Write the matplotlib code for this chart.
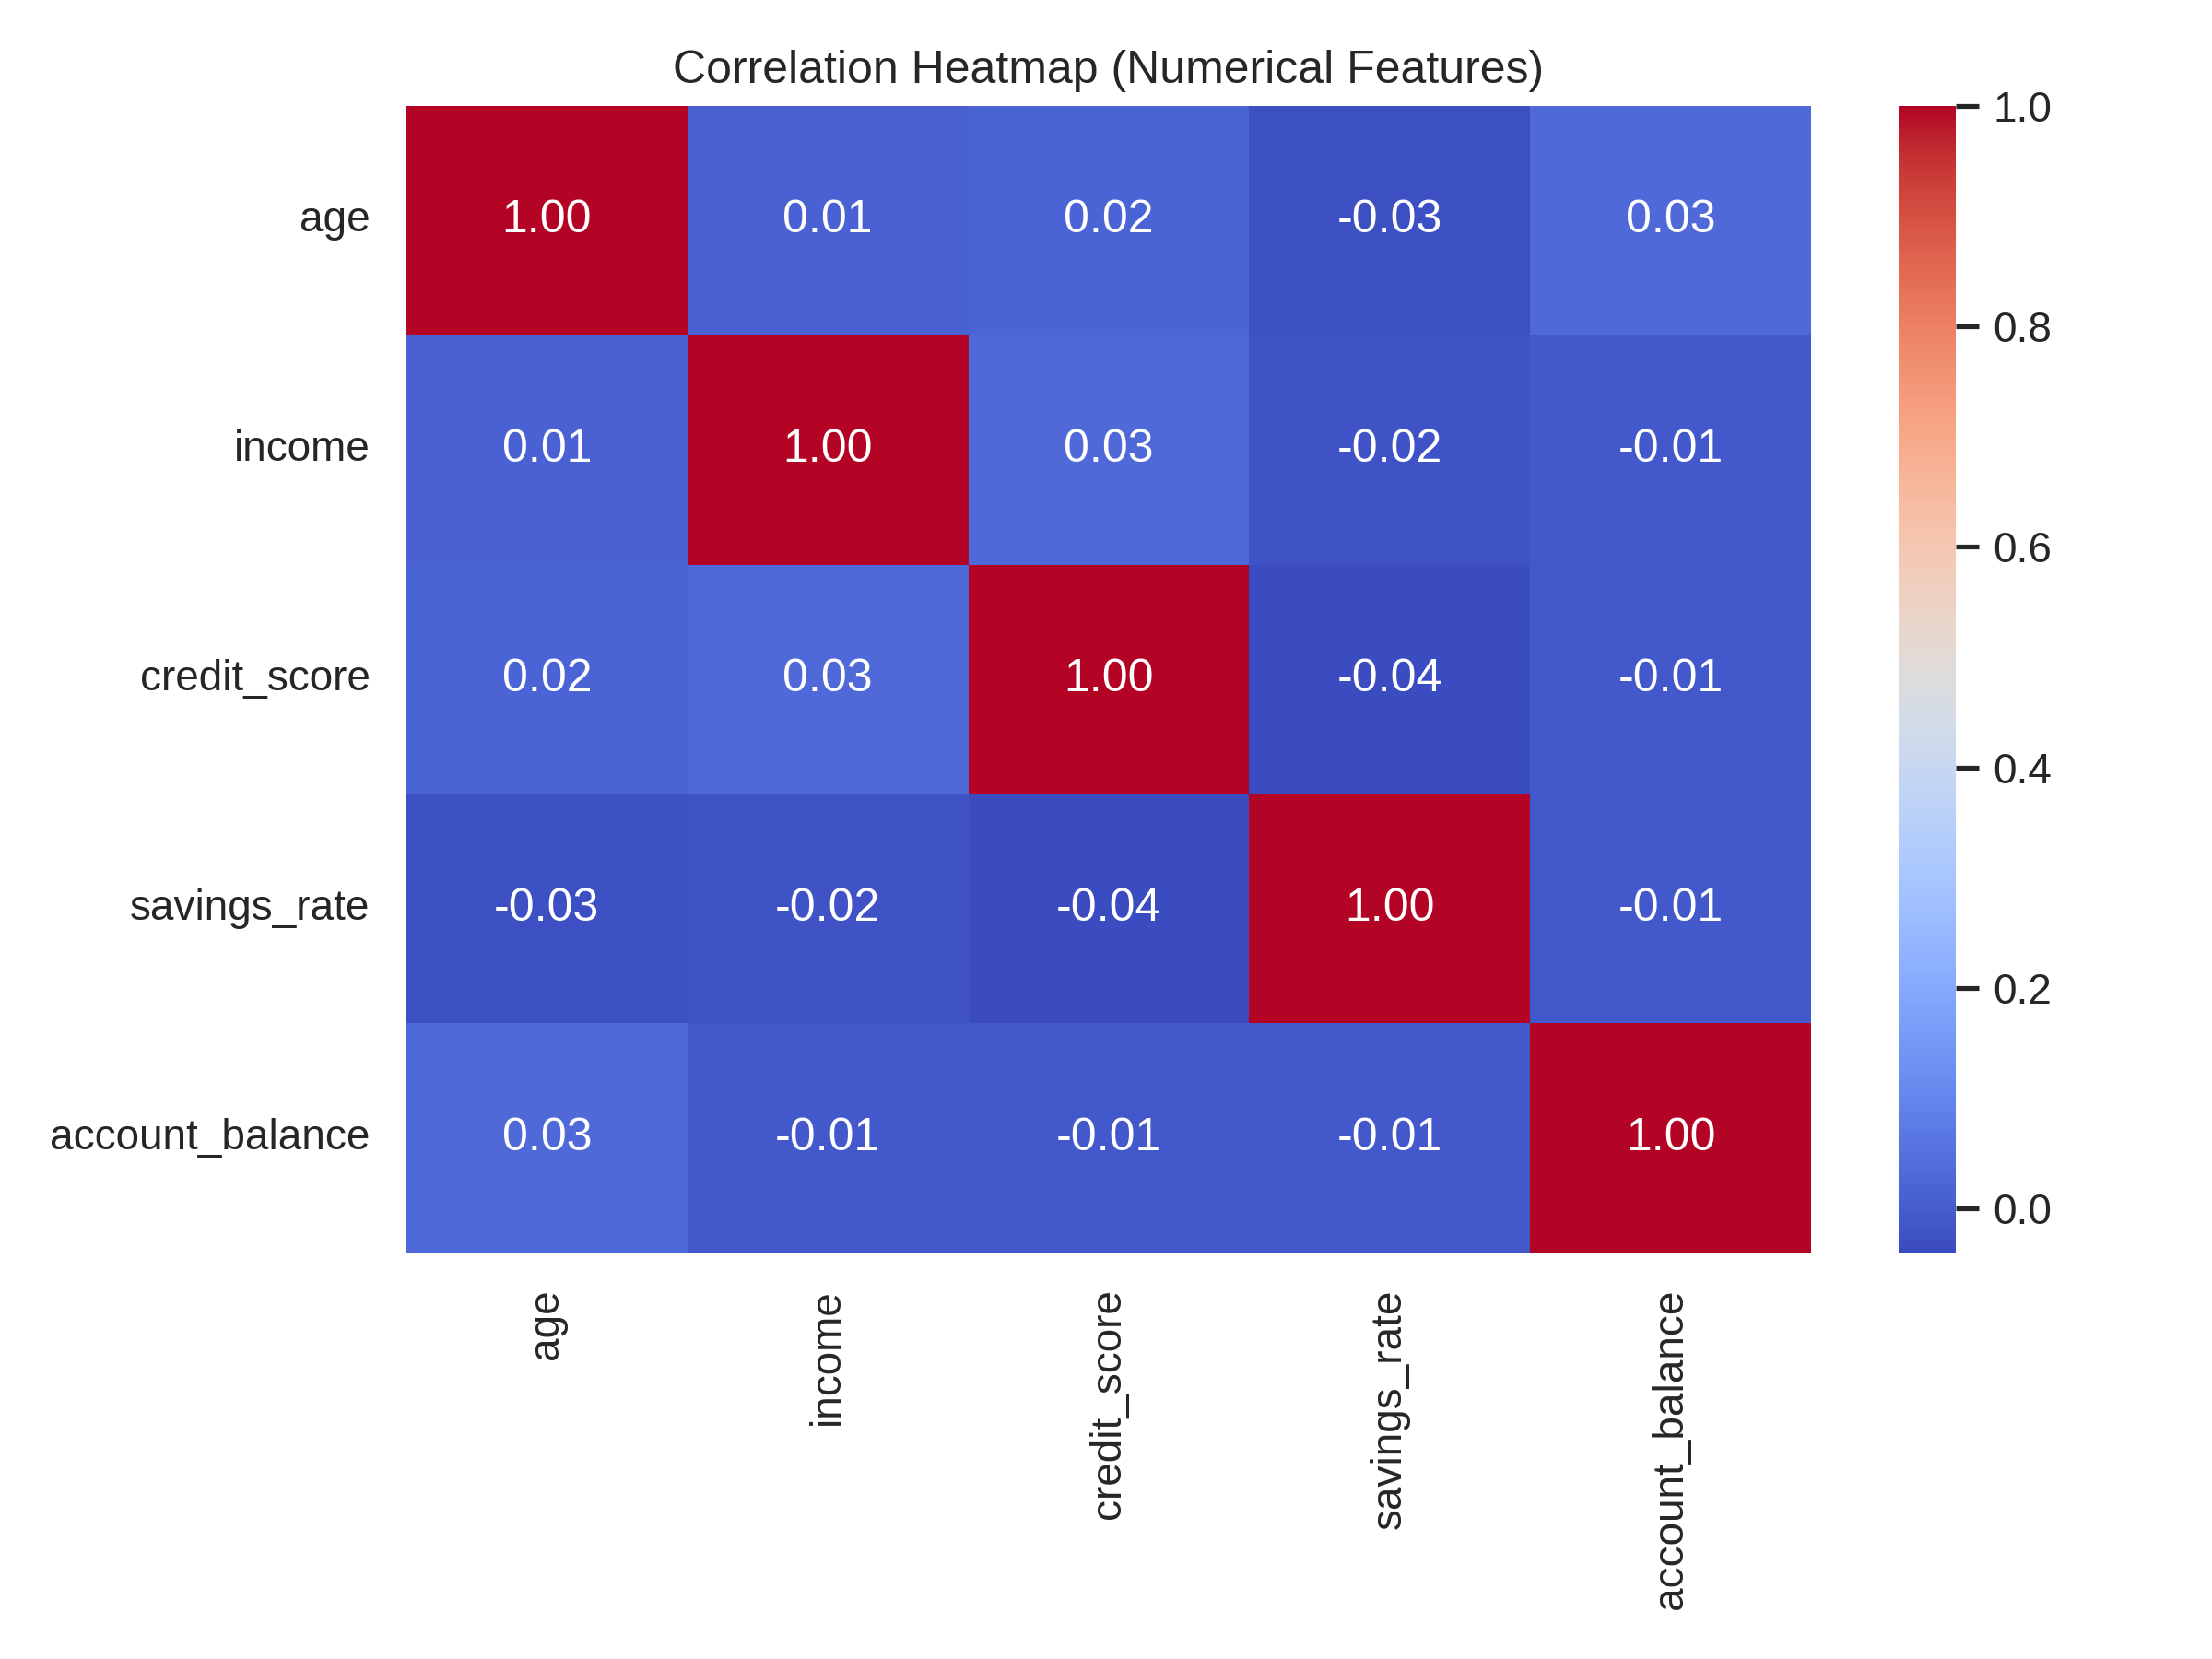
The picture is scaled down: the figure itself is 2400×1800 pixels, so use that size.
import matplotlib
matplotlib.use("Agg")
import matplotlib.pyplot as plt
import seaborn as sns
import numpy as np
import pandas as pd

features = ["age", "income", "credit_score", "savings_rate", "account_balance"]
row_age = [1.00, 0.01, 0.02, -0.03, 0.03]
row_income = [0.01, 1.00, 0.03, -0.02, -0.01]
row_credit = [0.02, 0.03, 1.00, -0.04, -0.01]
row_savings = [-0.03, -0.02, -0.04, 1.00, -0.01]
row_balance = [0.03, -0.01, -0.01, -0.01, 1.00]

corr = pd.DataFrame([row_age, row_income, row_credit, row_savings, row_balance],
                    index=features, columns=features)

sns.set_theme(style="white")
plt.rcParams['font.family'] = ['Liberation Sans', 'DejaVu Sans']

fig, ax = plt.subplots(figsize=(8, 6), dpi=300)
sns.heatmap(corr, annot=True, fmt=".2f", cmap="coolwarm", ax=ax)
ax.set_title("Correlation Heatmap (Numerical Features)")
ax.tick_params(axis='x', rotation=90)
ax.tick_params(axis='y', rotation=0)
plt.tight_layout()
fig.savefig("out.png", dpi=300)
